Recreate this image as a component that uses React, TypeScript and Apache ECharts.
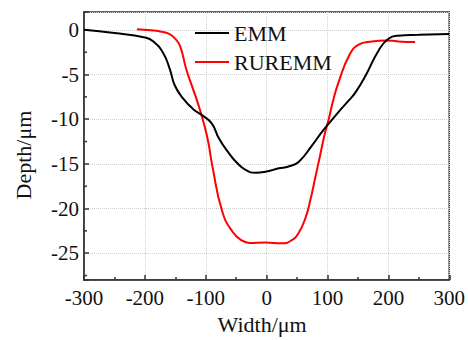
import React, { useEffect, useRef } from "react";
import * as echarts from "echarts";

const emmData: [number, number][] = [
  [-300, 0], [-250, -0.35], [-200, -0.85], [-186, -1.3], [-170, -2.6], [-159, -4.4],
  [-151, -6.2], [-137, -7.7], [-121, -8.85], [-105, -9.6], [-90, -10.5], [-78, -12.2],
  [-62, -13.8], [-50, -14.8], [-34, -15.7], [-18, -16.0], [0, -15.85], [20, -15.5],
  [36, -15.3], [53, -14.75], [75, -12.9], [90, -11.5], [102, -10.5], [118, -9.2],
  [135, -7.9], [146, -7.0], [162, -5.2], [184, -2.3], [200, -1.0], [216, -0.65],
  [250, -0.55], [300, -0.45],
];

const ruremmData: [number, number][] = [
  [-213, 0.07], [-190, -0.05], [-175, -0.18], [-160, -0.45], [-150, -1.0], [-142, -1.85],
  [-132, -4.4], [-121, -6.6], [-113, -8.2], [-103, -10.5], [-96, -12.5], [-89, -15.3],
  [-73, -20.3], [-56, -22.6], [-40, -23.6], [-28, -23.85], [-2, -23.8], [25, -23.9],
  [40, -23.6], [52, -22.8], [64, -21], [72, -19], [80, -16.5], [88, -14], [96, -11.5],
  [102, -10], [110, -7.7], [118, -5.9], [135, -2.95], [151, -1.66], [173, -1.29],
  [195, -1.18], [216, -1.29], [244, -1.36],
];

const seriesNames = ["EMM", "RUREMM"];
const yMinorTicks = [-2.5, -7.5, -12.5, -17.5, -22.5, -27.5];

const FONT = "Liberation Serif";

export default function App() {
  const ref = useRef<HTMLDivElement>(null);
  useEffect(() => {
    if (!ref.current) return;
    const chart = echarts.init(ref.current, undefined, { renderer: "svg" });
    chart.setOption({
      animation: false,
      backgroundColor: "#ffffff",
      textStyle: { fontFamily: FONT },
      grid: {
        left: 84, right: 17, top: 12, bottom: 57,
        show: true, borderColor: "#333", borderWidth: 1.5,
      },
      legend: {
        data: seriesNames,
        orient: "vertical",
        left: 190, top: 17,
        itemGap: 7,
        itemWidth: 34, itemHeight: 2,
        icon: "rect",
        textStyle: { fontFamily: FONT, fontSize: 22, color: "#111" },
      },
      xAxis: {
        type: "value", min: -300, max: 300, interval: 100,
        name: "Width/\u03bcm", nameLocation: "middle", nameGap: 33,
        nameTextStyle: { fontFamily: FONT, fontSize: 22, color: "#111", padding: [0, 9, 0, 0] },
        axisLine: { show: true, onZero: false, lineStyle: { color: "#333", width: 1.5 } },
        axisTick: { show: true, inside: true, length: 5, lineStyle: { color: "#333", width: 1.5 } },
        minorTick: { show: true, splitNumber: 2, length: 3, lineStyle: { color: "#333", width: 1.5 } },
        axisLabel: { fontFamily: FONT, fontSize: 21, color: "#111", margin: 7 },
        splitLine: { show: true, lineStyle: { color: "#d0d0d0", type: "dotted", width: 1 } },
      },
      yAxis: {
        type: "value", min: -28, max: 2,
        name: "Depth/\u03bcm", nameLocation: "middle", nameGap: 50,
        nameTextStyle: { fontFamily: FONT, fontSize: 22, color: "#111", padding: [0, 18, 0, 0] },
        axisLine: { show: true, onZero: false, lineStyle: { color: "#333", width: 1.5 } },
        axisTick: { show: true, inside: true, length: 5, lineStyle: { color: "#333", width: 1.5 } },
        axisLabel: {
          fontFamily: FONT, fontSize: 21, color: "#111", margin: 5,
          formatter: (v: number) => (v % 5 === 0 ? String(v) : ""),
        },
        splitLine: { show: true, lineStyle: { color: "#d0d0d0", type: "dotted", width: 1 } },
      },
      series: [
        {
          name: seriesNames[0], type: "line", data: emmData, smooth: 0.5,
          showSymbol: false, symbol: "none",
          lineStyle: { color: "#000", width: 2 }, itemStyle: { color: "#000" }, z: 3,
        },
        {
          name: seriesNames[1], type: "line", data: ruremmData, smooth: 0.5,
          showSymbol: false, symbol: "none",
          lineStyle: { color: "#ff0000", width: 2 }, itemStyle: { color: "#ff0000" }, z: 2,
        },
        {
          type: "custom", silent: true, coordinateSystem: "cartesian2d",
          data: yMinorTicks.map((v) => [-300, v]),
          renderItem: (_params: any, api: any) => {
            const p = api.coord([api.value(0), api.value(1)]);
            return {
              type: "line",
              shape: { x1: p[0], y1: p[1], x2: p[0] + 3, y2: p[1] },
              style: { stroke: "#333", lineWidth: 1.5 },
            };
          },
          z: 5,
        },
      ],
    });
    return () => chart.dispose();
  }, []);
  return (
    <div
      ref={ref}
      style={{ position: "fixed", left: 0, top: 0, width: 468, height: 340 }}
    />
  );
}
